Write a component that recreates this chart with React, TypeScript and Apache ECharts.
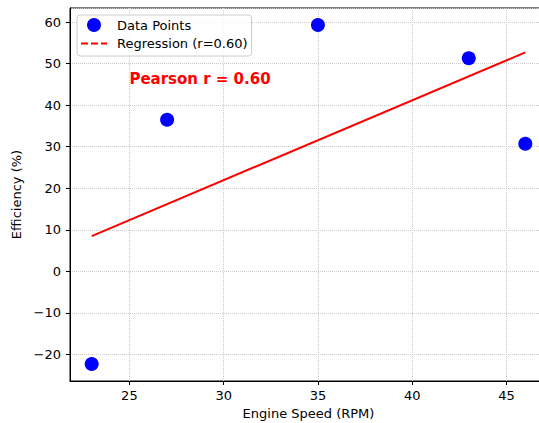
import React, { useEffect, useRef } from "react";
import * as echarts from "echarts";

const engineSpeed = [23, 27, 35, 43, 46];
const efficiency = [-22.3, 36.5, 59.3, 51.3, 30.7];
const regressionX = [23, 46];
const regressionY = [8.5, 52.7];
const annotationPoint = [25, 45];
const annotationText = "Pearson r = 0.60";
const seriesNames = ["Data Points", "Regression (r=0.60)"];
const xRange = [21.85, 47.15];
const yRange = [-26.38, 63.38];

const FONT = "DejaVu Sans";
const minus = (v: number) => (v < 0 ? "\u2212" + Math.abs(v) : String(v));

export default function App() {
  const ref = useRef<HTMLDivElement>(null);
  useEffect(() => {
    if (!ref.current) return;
    const chart = echarts.init(ref.current, undefined, { renderer: "svg" });
    const axisCommon = {
      nameLocation: "middle" as const,
      nameTextStyle: { fontFamily: FONT, fontSize: 13, color: "#000" },
      axisLine: { show: true, onZero: false, lineStyle: { color: "#000", width: 1 } },
      axisTick: { show: true, length: 4, lineStyle: { color: "#000" } },
      axisLabel: {
        fontFamily: FONT,
        fontSize: 13,
        color: "#000",
        showMinLabel: false,
        showMaxLabel: false,
        formatter: minus,
      },
      splitLine: {
        show: true,
        lineStyle: { color: "#cccccc", type: "dotted", width: 1 },
      },
    };
    chart.setOption({
      animation: false,
      backgroundColor: "#fff",
      textStyle: { fontFamily: FONT },
      grid: {
        left: 70,
        top: 8,
        width: 477,
        height: 373,
        containLabel: false,
        outerBoundsMode: "none",
        show: true,
        borderColor: "#000",
        borderWidth: 1,
      },
      xAxis: {
        ...axisCommon,
        type: "value",
        name: "Engine Speed (RPM)",
        nameGap: 26,
        min: xRange[0],
        max: xRange[1],
        splitNumber: 5,
        axisLabel: { ...axisCommon.axisLabel, margin: 8 },
      },
      yAxis: {
        ...axisCommon,
        type: "value",
        name: "Efficiency (%)",
        nameGap: 35,
        min: yRange[0],
        max: yRange[1],
        splitNumber: 9,
        axisLabel: { ...axisCommon.axisLabel, margin: 9 },
      },
      legend: {
        orient: "vertical",
        left: 77,
        top: 15,
        padding: [3, 4, 6, 4],
        itemWidth: 26,
        itemHeight: 14,
        itemGap: 5,
        borderColor: "#cccccc",
        borderWidth: 1,
        borderRadius: 3,
        backgroundColor: "rgba(255,255,255,0.8)",
        textStyle: { fontFamily: FONT, fontSize: 13, color: "#000", padding: [0, 0, 0, 5] },
        data: [
          { name: seriesNames[0], icon: "circle", itemStyle: { color: "#0000ff", opacity: 1 } },
          {
            name: seriesNames[1],
            icon: "path://M0,6h7v2h-7z M10,6h7v2h-7z M20,6h6v2h-6z",
            itemStyle: { color: "#ff0000", opacity: 1 },
          },
        ],
      },
      series: [
        {
          name: seriesNames[0],
          type: "scatter",
          symbol: "circle",
          symbolSize: 14,
          itemStyle: { color: "#0000ff", opacity: 1 },
          data: engineSpeed.map((x, i) => [x, efficiency[i]]),
          z: 3,
        },
        {
          name: seriesNames[1],
          type: "line",
          symbol: "none",
          showSymbol: false,
          lineStyle: { color: "#ff0000", width: 2 },
          itemStyle: { color: "#ff0000" },
          data: regressionX.map((x, i) => [x, regressionY[i]]),
          z: 2,
        },
        {
          name: "annotation",
          type: "scatter",
          silent: true,
          symbolSize: 0,
          itemStyle: { opacity: 1 },
          data: [annotationPoint],
          label: {
            show: true,
            position: "right",
            distance: 0,
            offset: [0, -5],
            formatter: annotationText,
            color: "#ff0000",
            opacity: 1,
            fontWeight: "bold",
            fontSize: 15,
            fontFamily: FONT,
          },
          z: 4,
        },
      ],
    });
    return () => chart.dispose();
  }, []);
  return (
    <div
      ref={ref}
      style={{ position: "absolute", left: 0, top: 0, width: 539, height: 423 }}
    />
  );
}
